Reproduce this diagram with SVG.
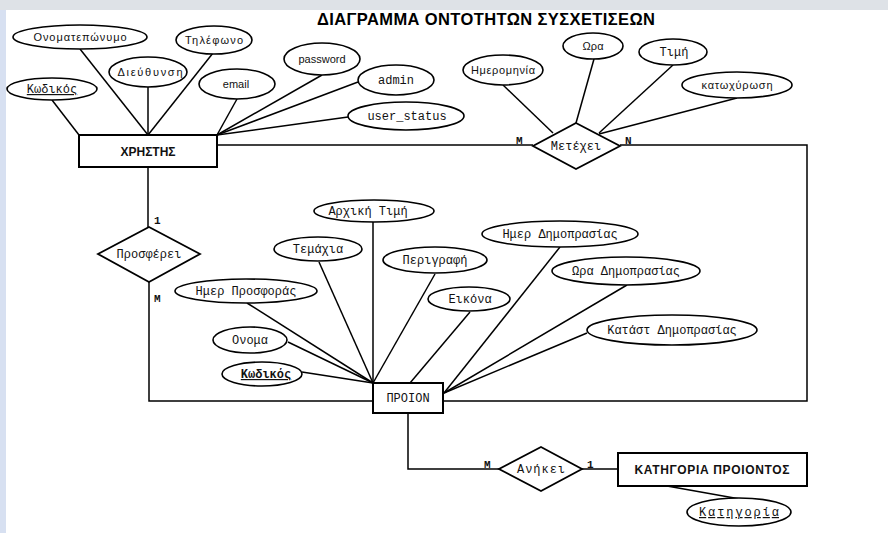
<svg xmlns="http://www.w3.org/2000/svg" width="888" height="533" viewBox="0 0 888 533">
<style>
.ln{stroke:#000;stroke-width:1.5;fill:none}
.box{fill:#fff;stroke:#000;stroke-width:2}
.att{fill:#fff;stroke:#000;stroke-width:1.6}
.rel{fill:#fff;stroke:#000;stroke-width:1.8}
.sans{font-family:"Liberation Sans",Arial,sans-serif;font-size:11px;fill:#111;text-anchor:middle}
.mono{font-family:"Liberation Mono","Courier New",monospace;font-size:12px;fill:#111;text-anchor:middle}
.ent{font-family:"Liberation Sans",Arial,sans-serif;font-size:12px;font-weight:bold;fill:#111;text-anchor:middle}
.card{font-family:"Liberation Mono","Courier New",monospace;font-size:11px;font-weight:bold;fill:#111}
.key{text-decoration:underline}
</style>
<rect x="0" y="0" width="888" height="533" fill="#fff"/>
<rect x="0" y="0" width="888" height="10" fill="#dee2e7"/>
<rect x="0" y="10" width="6" height="523" fill="#d7e0f1"/>
<text x="486" y="25" font-family="'Liberation Sans',Arial,sans-serif" font-size="16.5" font-weight="bold" text-anchor="middle" textLength="338" fill="#000">ΔΙΑΓΡΑΜΜΑ ΟΝΤΟΤΗΤΩΝ ΣΥΣΧΕΤΙΣΕΩΝ</text>

<g id="connectors">
<line class="ln" x1="148" y1="167" x2="148" y2="227"/>
<polyline class="ln" points="149,282 149,401 373,401"/>
<line class="ln" x1="217" y1="145" x2="533" y2="145"/>
<polyline class="ln" points="620,145 807,145 807,401 443,401"/>
<polyline class="ln" points="408,413 408,469 499,469"/>
<line class="ln" x1="582" y1="469" x2="618" y2="469"/>
<line class="ln" x1="52" y1="100" x2="79" y2="135"/>
<line class="ln" x1="80" y1="49" x2="148" y2="135"/>
<line class="ln" x1="148" y1="87" x2="148" y2="135"/>
<line class="ln" x1="213" y1="53" x2="148" y2="135"/>
<line class="ln" x1="237" y1="99" x2="217" y2="135"/>
<line class="ln" x1="322" y1="75" x2="217" y2="135"/>
<line class="ln" x1="358" y1="82" x2="217" y2="135"/>
<line class="ln" x1="348" y1="117" x2="217" y2="135"/>
<line class="ln" x1="503" y1="85" x2="553" y2="133"/>
<line class="ln" x1="594" y1="59" x2="576" y2="123"/>
<line class="ln" x1="673" y1="65" x2="599" y2="133"/>
<line class="ln" x1="737" y1="98" x2="599" y2="134"/>
<line class="ln" x1="373" y1="222" x2="373" y2="383"/>
<line class="ln" x1="319" y1="262" x2="373" y2="383"/>
<line class="ln" x1="247" y1="303" x2="373" y2="383"/>
<line class="ln" x1="288" y1="342" x2="373" y2="383"/>
<line class="ln" x1="302" y1="372" x2="373" y2="383"/>
<line class="ln" x1="435" y1="274" x2="373" y2="383"/>
<line class="ln" x1="470" y1="312" x2="410" y2="383"/>
<line class="ln" x1="560" y1="247" x2="444" y2="393"/>
<line class="ln" x1="627" y1="285" x2="444" y2="393"/>
<line class="ln" x1="587" y1="333" x2="444" y2="393"/>
<line class="ln" x1="667" y1="486" x2="740" y2="499"/>
</g>

<g id="xristis"><rect class="box" x="79" y="135" width="138" height="32"/><text class="ent" x="148" y="156">ΧΡΗΣΤΗΣ</text></g>
<g id="proion"><rect class="box" x="373" y="383" width="70" height="30"/><text class="mono" x="408" y="402">ΠΡΟΙΟΝ</text></g>
<g id="katigoria-proiontos"><rect class="box" x="618" y="453" width="189" height="33"/><text class="ent" x="712" y="474" textLength="155">ΚΑΤΗΓΟΡΙΑ ΠΡΟΙΟΝΤΟΣ</text></g>

<g id="prosferei"><polygon class="rel" points="149,227 200,254 149,282 98,254"/><text class="mono" x="149" y="258" font-size="11">Προσφέρει</text><text class="card" x="154" y="224">1</text><text class="card" x="154" y="302">M</text></g>
<g id="metexei"><polygon class="rel" points="576,123 620,146 576,169 533,146"/><text class="mono" x="576" y="150" font-size="11">Μετέχει</text><text class="card" x="516" y="144">M</text><text class="card" x="625" y="144">N</text></g>
<g id="anikei"><polygon class="rel" points="541,447 582,469 541,491 499,469"/><text class="mono" x="541" y="473" textLength="48">Ανήκει</text><text class="card" x="484" y="468">M</text><text class="card" x="587" y="468">1</text></g>

<g id="attr-kodikos-xristi"><ellipse class="att" cx="52" cy="89" rx="45" ry="11"/><text class="mono key" x="52" y="93">Κωδικός</text></g>
<g id="attr-onomateponymo"><ellipse class="att" cx="80" cy="37" rx="67" ry="12"/><text class="sans" x="80" y="41" font-size="10" textLength="93">Ονοματεπώνυμο</text></g>
<g id="attr-dieuthynsi"><ellipse class="att" cx="148" cy="72" rx="39" ry="15"/><text class="sans" x="150" y="76" textLength="65">Διεύθυνση</text></g>
<g id="attr-tilefono"><ellipse class="att" cx="214" cy="40" rx="38" ry="14"/><text class="sans" x="214" y="44" textLength="58">Τηλέφωνο</text></g>
<g id="attr-email"><ellipse class="att" cx="237" cy="84" rx="38" ry="15"/><text class="sans" x="236" y="88" font-size="12">email</text></g>
<g id="attr-password"><ellipse class="att" cx="322" cy="59" rx="38" ry="16"/><text class="sans" x="322" y="63" font-size="12">password</text></g>
<g id="attr-admin"><ellipse class="att" cx="396" cy="80" rx="38" ry="15"/><text class="mono" x="396" y="84">admin</text></g>
<g id="attr-user-status"><ellipse class="att" cx="406" cy="116" rx="58" ry="14"/><text class="mono" x="407" y="120">user_status</text></g>
<g id="attr-imerominia"><ellipse class="att" cx="503" cy="70" rx="40" ry="15"/><text class="sans" x="503" y="74" textLength="64">Ημερομηνία</text></g>
<g id="attr-ora"><ellipse class="att" cx="593" cy="46" rx="30" ry="13"/><text class="sans" x="593" y="50" textLength="21">Ωρα</text></g>
<g id="attr-timi"><ellipse class="att" cx="673" cy="52" rx="34" ry="13"/><text class="mono" x="674" y="56">Τιμή</text></g>
<g id="attr-katoxyrosi"><ellipse class="att" cx="737" cy="85" rx="55" ry="13"/><text class="sans" x="737" y="89" textLength="71">κατωχύρωση</text></g>
<g id="attr-arxiki-timi"><ellipse class="att" cx="374" cy="211" rx="60" ry="11"/><text class="mono" x="368" y="215">Αρχική Τιμή</text></g>
<g id="attr-temaxia"><ellipse class="att" cx="318" cy="249" rx="44" ry="12"/><text class="mono" x="318" y="253">Τεμάχια</text></g>
<g id="attr-imer-prosforas"><ellipse class="att" cx="246" cy="291" rx="71" ry="12"/><text class="mono" x="246" y="295">Ημερ Προσφοράς</text></g>
<g id="attr-onoma"><ellipse class="att" cx="250" cy="340" rx="37" ry="13"/><text class="mono" x="250" y="344">Ονομα</text></g>
<g id="attr-kodikos-proiontos"><ellipse class="att" cx="262" cy="374" rx="40" ry="12"/><text class="mono key" x="266" y="378" font-weight="bold">Κωδικός</text></g>
<g id="attr-perigrafi"><ellipse class="att" cx="435" cy="260" rx="52" ry="13"/><text class="mono" x="435" y="264">Περιγραφή</text></g>
<g id="attr-eikona"><ellipse class="att" cx="469" cy="299" rx="41" ry="12"/><text class="mono" x="470" y="303">Εικόνα</text></g>
<g id="attr-imer-dimoprasias"><ellipse class="att" cx="560" cy="234" rx="78" ry="13"/><text class="mono" x="560" y="238">Ημερ Δημοπρασίας</text></g>
<g id="attr-ora-dimoprasias"><ellipse class="att" cx="626" cy="271" rx="74" ry="14"/><text class="mono" x="626" y="275">Ωρα Δημοπρασίας</text></g>
<g id="attr-katast-dimoprasias"><ellipse class="att" cx="672" cy="330" rx="85" ry="15"/><text class="mono" x="672" y="334">Κατάστ Δημοπρασίας</text></g>
<g id="attr-katigoria"><ellipse class="att" cx="739" cy="512" rx="52" ry="14"/><text class="mono key" x="739" y="516" textLength="80">Κατηγορία</text></g>
</svg>
